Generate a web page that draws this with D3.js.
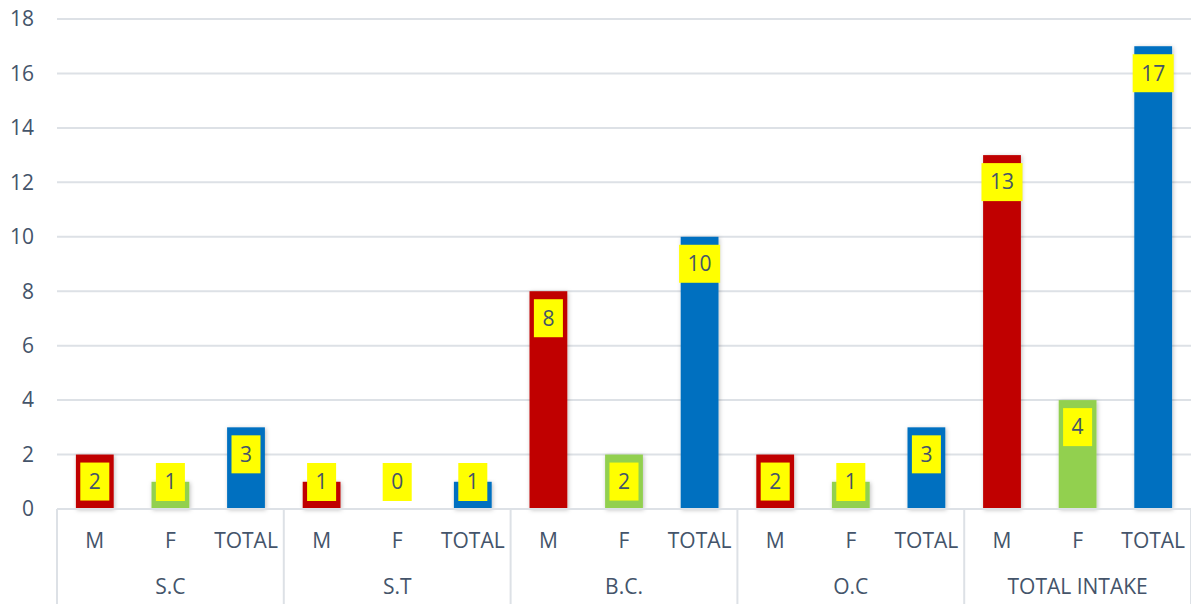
<!DOCTYPE html>
<html>
<head>
<meta charset="utf-8">
<script src="https://cdn.jsdelivr.net/npm/d3@7"></script>
<style>
  body { margin: 0; background: #fff; }
  svg { display: block; font-family: "Open Sans", "Noto Sans", sans-serif; }
</style>
</head>
<body>
<div id="chart"></div>
<script>
var groups = ["S.C", "S.T", "B.C.", "O.C", "TOTAL INTAKE"]
var subs = ["M", "F", "TOTAL"]
var maleVals = [2, 1, 8, 2, 13]
var femaleVals = [1, 0, 2, 1, 4]
var totalVals = [3, 1, 10, 3, 17]
var yTicks = [0, 2, 4, 6, 8, 10, 12, 14, 16, 18]

var W = 1191, H = 604
var margin = {top: 19, right: 0, bottom: 95, left: 57}
var colors = {"M": "#C00000", "F": "#92D050", "TOTAL": "#0070C0"}
var textCol = "#44546A"
var fs = "21px"

var rows = []
groups.forEach(function(g, i) {
  rows.push({group: g, sub: "M", value: maleVals[i]})
  rows.push({group: g, sub: "F", value: femaleVals[i]})
  rows.push({group: g, sub: "TOTAL", value: totalVals[i]})
})

var svg = d3.select("#chart").append("svg")
  .attr("width", W)
  .attr("height", H)

var defs = svg.append("defs")
var filter = defs.append("filter").attr("id", "shadow")
  .attr("x", "-30%").attr("y", "-10%").attr("width", "160%").attr("height", "130%")
filter.append("feDropShadow")
  .attr("dx", 1).attr("dy", 1).attr("stdDeviation", 2)
  .attr("flood-color", "#000").attr("flood-opacity", 0.25)

var x0 = d3.scaleBand().domain(groups).range([margin.left, W - margin.right])
var x1 = d3.scaleBand().domain(subs).range([0, x0.bandwidth()])
  .paddingInner(0.5).paddingOuter(0.25)
var y = d3.scaleLinear().domain([0, 18]).range([H - margin.bottom, margin.top])

// gridlines
svg.append("g").selectAll("line")
  .data(yTicks.slice(1))
  .enter().append("line")
  .attr("x1", margin.left).attr("x2", W - margin.right)
  .attr("y1", function(d) { return y(d) }).attr("y2", function(d) { return y(d) })
  .style("stroke", "#DDE1E6").style("stroke-width", 2)

// y tick labels
svg.append("g").selectAll("text")
  .data(yTicks)
  .enter().append("text")
  .attr("x", 34)
  .attr("y", function(d) { return y(d) })
  .attr("dy", "0.35em")
  .attr("text-anchor", "end")
  .style("font-size", fs)
  .style("fill", textCol)
  .text(function(d) { return d })

// bars
svg.append("g").selectAll("rect")
  .data(rows)
  .enter().append("rect")
  .attr("x", function(d) { return x0(d.group) + x1(d.sub) })
  .attr("width", x1.bandwidth())
  .attr("y", function(d) { return y(d.value) })
  .attr("height", function(d) { return y(0) - y(d.value) })
  .style("fill", function(d) { return colors[d.sub] })
  .style("filter", "url(#shadow)")

// baseline
svg.append("line")
  .attr("x1", margin.left).attr("x2", W)
  .attr("y1", y(0)).attr("y2", y(0))
  .style("stroke", "#DDE1E6").style("stroke-width", 2)

// group separators
var seps = groups.map(function(g) { return x0(g) }).concat([x0.range()[1]])
svg.append("g").selectAll("line")
  .data(seps)
  .enter().append("line")
  .attr("x1", function(d) { return d }).attr("x2", function(d) { return d })
  .attr("y1", y(0)).attr("y2", H)
  .style("stroke", "#DDE1E6").style("stroke-width", 2)

// sub labels
svg.append("g").selectAll("text")
  .data(rows)
  .enter().append("text")
  .attr("x", function(d) { return x0(d.group) + x1(d.sub) + x1.bandwidth() / 2 })
  .attr("y", 541)
  .attr("dy", "0.35em")
  .attr("text-anchor", "middle")
  .style("font-size", fs)
  .style("fill", textCol)
  .text(function(d) { return d.sub })

// group labels
svg.append("g").selectAll("text")
  .data(groups)
  .enter().append("text")
  .attr("x", function(d) { return x0(d) + x0.bandwidth() / 2 })
  .attr("y", 587)
  .attr("dy", "0.35em")
  .attr("text-anchor", "middle")
  .style("font-size", fs)
  .style("fill", textCol)
  .text(function(d) { return d })

// data labels (yellow boxes, inside end)
var lab = svg.append("g").selectAll("g")
  .data(rows)
  .enter().append("g")

lab.each(function(d) {
  var g = d3.select(this)
  var cx = x0(d.group) + x1(d.sub) + x1.bandwidth() / 2
  var top = Math.min(y(d.value) + 8, y(0) - 46)
  var t = g.append("text")
    .attr("x", cx)
    .attr("y", top + 19)
    .attr("dy", "0.35em")
    .attr("text-anchor", "middle")
    .style("font-size", fs)
    .style("fill", textCol)
    .text(d.value)
  var tw = t.node().getComputedTextLength()
  g.insert("rect", "text")
    .attr("x", cx - (tw + 17) / 2)
    .attr("y", top)
    .attr("width", tw + 17)
    .attr("height", 38)
    .style("fill", "#FFFF00")
})
</script>
</body>
</html>
